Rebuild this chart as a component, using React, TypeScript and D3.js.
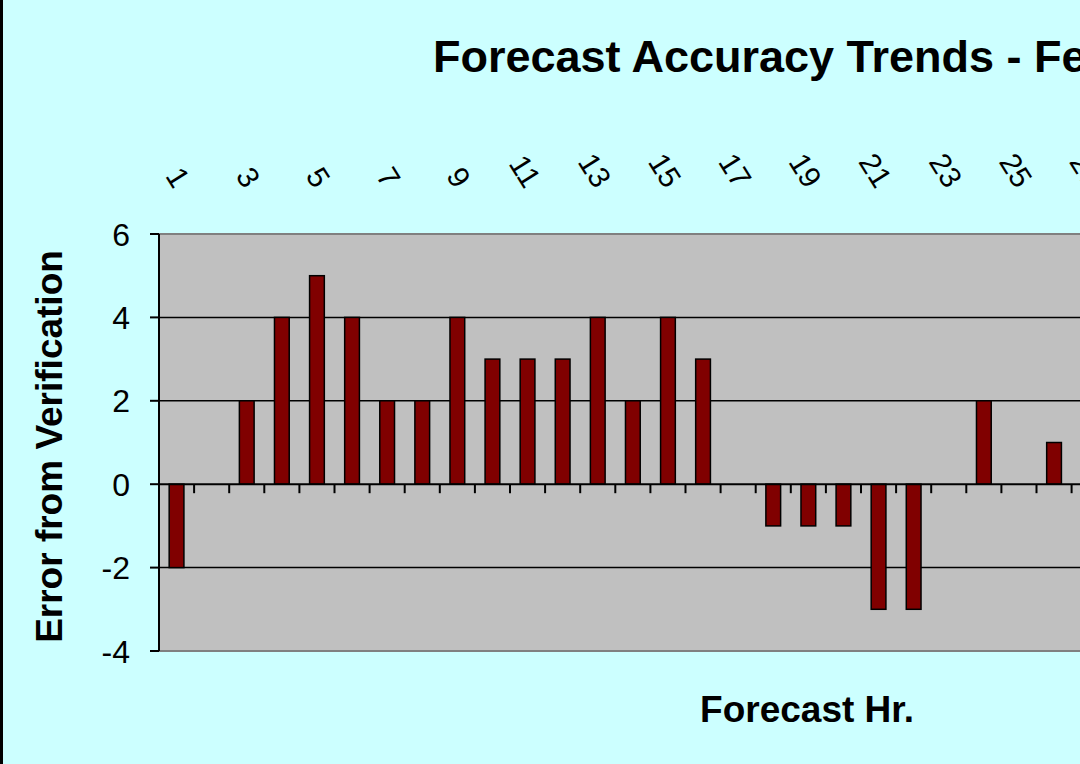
import React from "react";
import * as d3 from "d3";

const hours = [1, 2, 3, 4, 5, 6, 7, 8, 9, 10, 11, 12, 13, 14, 15, 16, 17, 18, 19, 20, 21, 22, 23, 24, 25, 26, 27, 28, 29, 30, 31, 32, 33, 34, 35, 36, 37];
const errors: (number | null)[] = [-2, 0, 2, 4, 5, 4, 2, 2, 4, 3, 3, 3, 4, 2, 4, 3, 0, -1, -1, -1, -3, -3, 0, 2, 0, 1, null, null, null, null, null, null, null, null, null, null, null];
const yTicks = [-4, -2, 0, 2, 4, 6];
const titleText = "Forecast Accuracy Trends - Fe";
const xTitle = "Forecast Hr.";
const yTitle = "Error from Verification";

const W = 1080;
const H = 764;
const plotLeft = 159;
const plotTop = 234;
const plotBottom = 651;
const step = 35.1;

export default function App() {
  const x = d3
    .scaleBand<number>()
    .domain(hours)
    .range([plotLeft, plotLeft + step * hours.length])
    .padding(0);
  const y = d3.scaleLinear().domain([-4, 6]).range([plotBottom, plotTop]);
  const plotRight = plotLeft + step * hours.length;
  const bw = x.bandwidth();
  const barW = bw * 0.42;
  const font = "Arial, 'Liberation Sans', Helvetica, sans-serif";

  return (
    <div style={{ position: "fixed", left: 0, top: 0, width: W, height: H }}>
      <svg width={W} height={H} style={{ display: "block" }} fontFamily={font}>
        <rect x={0} y={0} width={W} height={H} fill="#CCFFFF" />
        <rect x={0} y={0} width={3} height={H} fill="#000" />
        {/* plot area */}
        <rect x={plotLeft} y={plotTop} width={plotRight - plotLeft} height={plotBottom - plotTop} fill="#C0C0C0" stroke="#808080" strokeWidth={2} />
        {/* gridlines */}
        {yTicks
          .filter((t) => t !== 6 && t !== -4 && t !== 0)
          .map((t) => (
            <line key={"g" + t} x1={plotLeft} x2={plotRight} y1={y(t)} y2={y(t)} stroke="#000" strokeWidth={1.5} />
          ))}
        {/* bars */}
        {hours.map((h, i) => {
          const v = errors[i];
          if (v == null || v === 0) return null;
          const cx = (x(h) as number) + bw / 2;
          return (
            <rect
              key={"b" + h}
              x={cx - barW / 2}
              y={y(Math.max(0, v))}
              width={barW}
              height={Math.abs(y(v) - y(0))}
              fill="#800000"
              stroke="#000"
              strokeWidth={1.5}
            />
          );
        })}
        {/* x axis at 0 */}
        <line x1={plotLeft} x2={plotRight} y1={y(0)} y2={y(0)} stroke="#000" strokeWidth={2} />
        {hours.map((h) => {
          const bx = (x(h) as number) + bw;
          return <line key={"t" + h} x1={bx} x2={bx} y1={y(0)} y2={y(0) + 9} stroke="#000" strokeWidth={2} />;
        })}
        {/* y axis */}
        <line x1={plotLeft} x2={plotLeft} y1={plotTop} y2={plotBottom} stroke="#000" strokeWidth={2} />
        {yTicks.map((t) => (
          <g key={"y" + t}>
            <line x1={plotLeft - 9} x2={plotLeft} y1={y(t)} y2={y(t)} stroke="#000" strokeWidth={2} />
            <text x={130} y={y(t)} dy="0.36em" textAnchor="end" fontSize={32} fill="#000">
              {t}
            </text>
          </g>
        ))}
        {/* x tick labels (top, rotated) */}
        {hours
          .filter((h) => h % 2 === 1)
          .map((h) => {
            const cx = (x(h) as number) + bw / 2;
            return (
              <text
                key={"xl" + h}
                transform={`translate(${cx - 3},${190}) rotate(58)`}
                textAnchor="end"
                fontSize={30}
                fill="#000"
              >
                {h}
              </text>
            );
          })}
        {/* titles */}
        <text x={433} y={72} fontSize={45} fontWeight="bold" fill="#000">
          {titleText}
        </text>
        <text x={807} y={722} textAnchor="middle" fontSize={37} fontWeight="bold" fill="#000">
          {xTitle}
        </text>
        <text transform={`translate(62,${(plotTop + plotBottom) / 2 + 4}) rotate(-90)`} textAnchor="middle" fontSize={37} fontWeight="bold" fill="#000">
          {yTitle}
        </text>
      </svg>
    </div>
  );
}
